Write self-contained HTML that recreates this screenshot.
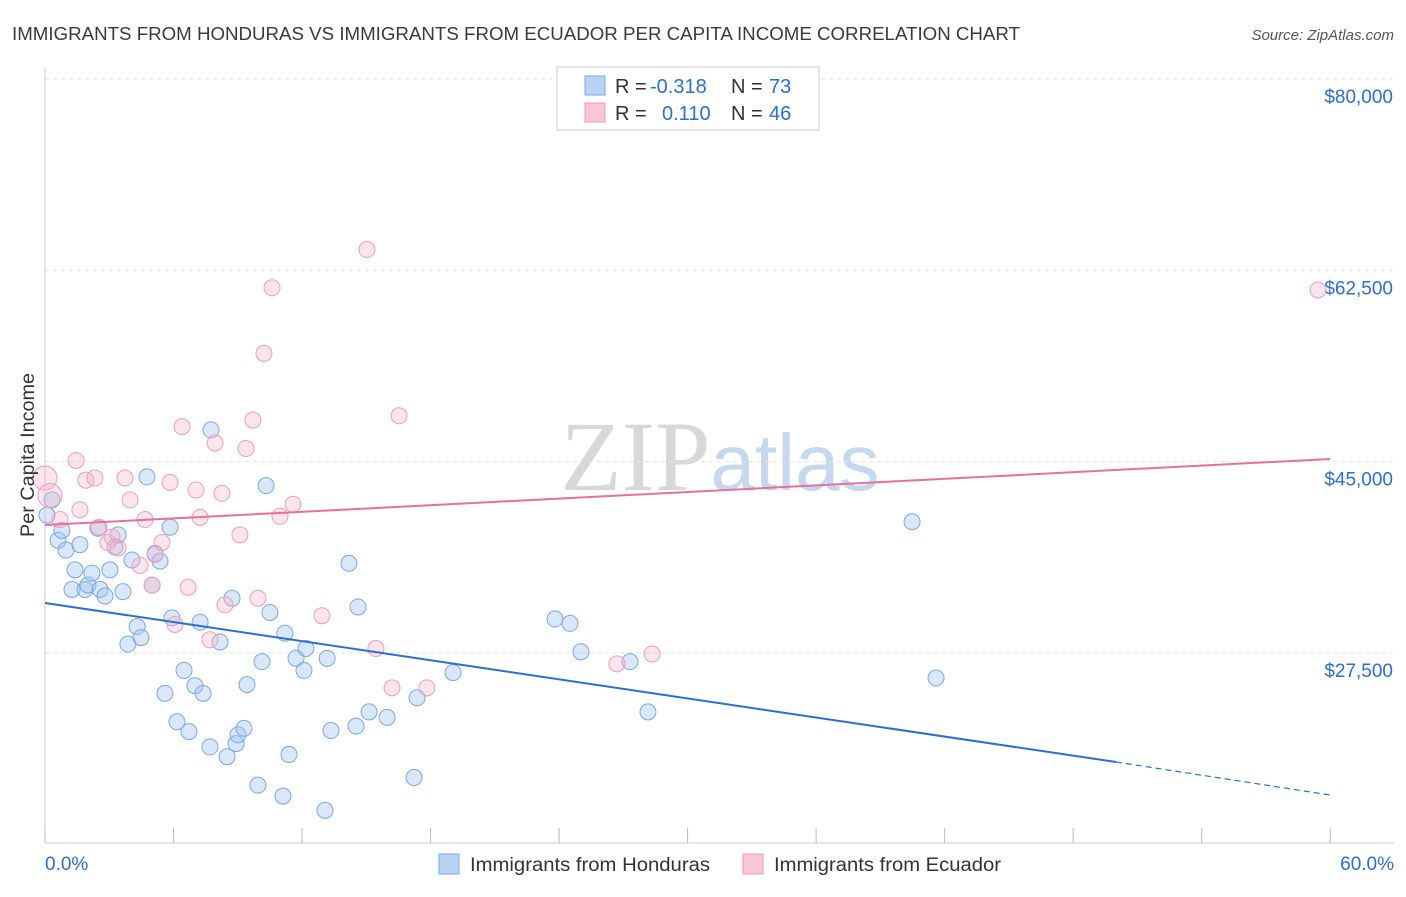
<!DOCTYPE html>
<html><head><meta charset="utf-8"><style>
body{margin:0;background:#fff;font-family:"Liberation Sans",sans-serif;}
</style></head><body>
<svg id="chart" width="1406" height="892" xmlns="http://www.w3.org/2000/svg">
<text x="12" y="40" font-size="18" fill="#3a3a3a" textLength="1008" lengthAdjust="spacingAndGlyphs">IMMIGRANTS FROM HONDURAS VS IMMIGRANTS FROM ECUADOR PER CAPITA INCOME CORRELATION CHART</text>
<text x="1394" y="40" font-size="15" fill="#555" font-style="italic" text-anchor="end">Source: ZipAtlas.com</text>
<text x="720" y="490" font-size="100" fill="#d8d8d8" text-anchor="middle" font-family="Liberation Serif,serif">ZIP<tspan fill="#c5d8ee" font-family="Liberation Sans,sans-serif" font-size="80">atlas</tspan></text>
<g id="grid"></g><g id="axes"></g><g id="marks"></g>
<text transform="translate(34,455) rotate(-90)" font-size="19" fill="#333" text-anchor="middle" textLength="164" lengthAdjust="spacingAndGlyphs">Per Capita Income</text>
<g>
<rect x="557" y="67" width="262" height="63" fill="#fff" stroke="#ccc"/>
<rect x="585" y="76" width="20" height="19" fill="#b9d3f5" stroke="#7aa8e6"/>
<rect x="585" y="103" width="20" height="19" fill="#f8c6d6" stroke="#ef9ab6"/>
<text x="615" y="93" font-size="20" fill="#333">R = <tspan x="650" fill="#2a6fd6">-0.318</tspan><tspan x="731">N = </tspan><tspan x="769" fill="#2a6fd6">73</tspan></text>
<text x="615" y="120" font-size="20" fill="#333">R = <tspan x="662" fill="#2a6fd6">0.110</tspan><tspan x="731">N = </tspan><tspan x="769" fill="#2a6fd6">46</tspan></text>
</g>
<g>
<rect x="439" y="854" width="20" height="20" fill="#b9d3f5" stroke="#7aa8e6"/>
<text x="470" y="871" font-size="19" fill="#333" textLength="240" lengthAdjust="spacingAndGlyphs">Immigrants from Honduras</text>
<rect x="743" y="854" width="20" height="20" fill="#f8c6d6" stroke="#ef9ab6"/>
<text x="774" y="871" font-size="19" fill="#333" textLength="227" lengthAdjust="spacingAndGlyphs">Immigrants from Ecuador</text>
</g>
</svg>
<script>
const yTicks=[80000,62500,45000,27500];
const yTickLabels=["$80,000","$62,500","$45,000","$27,500"];
const xTickLabels=["0.0%","60.0%"];
const hondurasX=[0.09,0.33,0.61,0.79,0.98,1.26,1.40,1.63,1.87,2.01,2.19,2.47,2.57,2.80,3.03,3.27,3.41,3.64,3.87,4.06,4.30,4.48,4.76,5.00,5.14,5.37,5.60,5.84,5.93,6.16,6.49,6.72,7.00,7.24,7.38,7.70,7.75,8.17,8.50,8.73,8.92,9.01,9.29,9.43,9.94,10.13,10.32,10.50,11.11,11.20,11.39,11.72,12.09,12.18,13.07,13.17,13.35,14.19,14.52,14.61,15.13,15.97,17.23,17.37,19.05,23.81,24.51,25.02,27.31,28.15,40.48,41.60];
const hondurasY=[40.1,41.5,37.8,38.7,36.9,33.3,35.1,37.4,33.3,33.7,34.8,38.9,33.3,32.7,35.1,37.2,38.3,33.1,28.3,36.0,29.9,28.9,43.6,33.7,36.6,35.9,23.8,39.0,30.7,21.2,25.9,20.3,24.5,30.3,23.8,18.9,47.9,28.5,18.0,32.5,19.2,20.0,20.6,24.6,15.4,26.7,42.8,31.2,14.4,29.3,18.2,27.0,25.9,27.9,13.1,27.0,20.4,35.7,20.8,31.7,22.1,21.6,16.1,23.4,25.7,30.6,30.2,27.6,26.7,22.1,39.5,25.2];
const ecuadorX=[0,0.23,0.70,1.45,1.63,1.91,2.33,2.52,2.94,3.13,3.41,3.73,3.97,4.44,4.67,5.00,5.14,5.46,5.84,6.07,6.40,6.68,7.05,7.24,7.70,7.94,8.26,8.40,9.10,9.38,9.71,9.94,10.22,10.60,10.97,11.58,12.93,15.03,15.45,16.20,16.53,17.83,26.70,28.34,59.43];
const ecuadorY=[43.5,41.9,39.7,45.1,40.6,43.3,43.5,39.0,37.6,38.1,37.1,43.5,41.5,35.5,39.7,33.7,36.5,37.6,43.1,30.1,48.2,33.5,42.4,39.9,28.7,46.7,42.1,31.9,38.3,46.2,48.8,32.5,54.9,60.9,40.0,41.1,30.9,64.4,27.9,24.3,49.2,24.3,26.5,27.4,60.7];
const hondurasTrend=[[0,32065],[50,17519],[60,14500]];
const ecuadorTrend=[[0,39200],[60,45238]];
const NS="http://www.w3.org/2000/svg";
const xs=p=>45+p*21.42;
const ys=v=>79+(80000-v)/17500*191.3;
function mk(tag,attrs,parent){const e=document.createElementNS(NS,tag);for(const k in attrs)e.setAttribute(k,attrs[k]);document.getElementById(parent).appendChild(e);return e;}
yTicks.forEach((v,i)=>{
 const g=mk('line',{x1:45,x2:1394,y1:ys(v),y2:ys(v),stroke:'#e2e2e2','stroke-dasharray':'4,4'},'grid');
 
 
 const t=mk('text',{x:1393,y:ys(v)+24,'font-size':19,fill:'#2a6fd6','text-anchor':'end'},'axes');
 t.textContent=yTickLabels[i];
 
 
});
const ax=mk('line',{x1:45,x2:45,y1:68,y2:843,stroke:'#ccc'},'axes');


const bx=mk('line',{x1:45,x2:1394,y1:843,y2:843,stroke:'#ccc'},'axes');


for(let i=0;i<=10;i++){const t=mk('line',{x1:xs(i*6),x2:xs(i*6),y1:828,y2:843,stroke:'#bbb'},'axes');
 
 }
[[0,'start',45],[60,'end',1394]].forEach((d,i)=>{const t=mk('text',{x:d[2],y:870,'font-size':19,fill:'#2a6fd6','text-anchor':d[1]},'axes');t.textContent=xTickLabels[i];
 
 });
hondurasX.forEach((p,i)=>{const c=mk('circle',{cx:xs(p),cy:ys(hondurasY[i]*1000),r:8,fill:'rgba(160,196,240,0.4)',stroke:'#7aa8e6','stroke-width':1},'marks');
 
 });
ecuadorX.forEach((p,i)=>{const c=mk('circle',{cx:xs(p),cy:ys(ecuadorY[i]*1000),r:i<2?12:8,fill:'rgba(245,180,200,0.35)',stroke:'#f29cba','stroke-width':1},'marks');
 
 });
const bt=mk('line',{x1:xs(hondurasTrend[0][0]),y1:ys(hondurasTrend[0][1]),x2:xs(hondurasTrend[1][0]),y2:ys(hondurasTrend[1][1]),stroke:'#2a6fd6','stroke-width':2},'marks');


const bd=mk('line',{x1:xs(hondurasTrend[1][0]),y1:ys(hondurasTrend[1][1]),x2:xs(hondurasTrend[2][0]),y2:ys(hondurasTrend[2][1]),stroke:'#2a6fd6','stroke-width':1.2,'stroke-dasharray':'6,4'},'marks');


const pt=mk('line',{x1:xs(ecuadorTrend[0][0]),y1:ys(ecuadorTrend[0][1]),x2:xs(ecuadorTrend[1][0]),y2:ys(ecuadorTrend[1][1]),stroke:'#e8709a','stroke-width':2},'marks');


</script>
</body></html>
